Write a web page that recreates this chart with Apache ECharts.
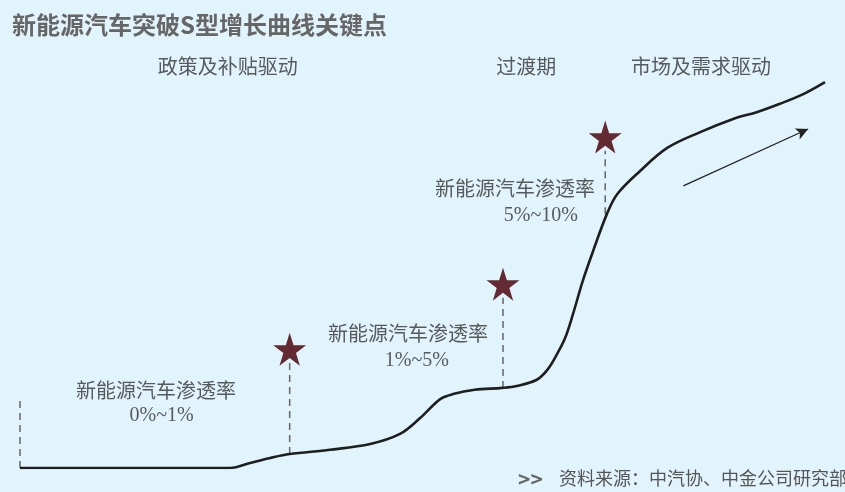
<!DOCTYPE html>
<html><head><meta charset="utf-8">
<script src="https://cdn.jsdelivr.net/npm/echarts@6/dist/echarts.min.js"></script>
<style>html,body{margin:0;padding:0;background:#e1f3fb}#c{width:845px;height:492px}</style>
</head><body><div id="c"></div>
<script>
// S-curve (conceptual): x = time 0-100, y = penetration level 0-100
const curveX = [0, 26.1, 28.6, 31.1, 33.5, 38.5, 43.5, 47.2, 49.7, 52.2, 53.8, 56.5, 59.9, 61.7, 64.2, 65.6, 66.6, 67.7, 68.7, 69.9, 71.2, 72.9, 74.2, 77.0, 80.4, 84.5, 88.6, 91.6, 94.4, 97.3, 100];
const curveY = [0, 0, 1.3, 2.6, 3.6, 4.7, 6.2, 8.8, 12.9, 17.8, 19.1, 20.2, 20.7, 21.2, 22.8, 25.6, 29.0, 33.5, 39.8, 48.3, 56.1, 65.6, 70.8, 76.7, 82.7, 86.8, 90.2, 92.0, 94.1, 96.6, 99.7];
// key points (stars) and dashed guide lines
const starX = [33.5, 60.0, 72.7];
const starY = [30.7, 47.5, 85.5];
const guideBottom = [3.6, 20.7, 65.6];
const guideTop = [27.1, 44.0, 82.0];
const startGuide = [[0, 0], [0, 17.8]];
// annotation labels
const labelTitle = '新能源汽车渗透率';
const labelRanges = ['0%~1%', '1%~5%', '5%~10%'];
const labelTitlePos = [[16.9, 19.4], [48.2, 34.1], [61.5, 71.6]];
const labelRangePos = [[17.6, 13.4], [49.3, 27.6], [64.7, 65.1]];
const phases = ['政策及补贴驱动', '过渡期', '市场及需求驱动'];
const phaseX = [25.8, 62.9, 84.6];
const phaseY = 103.1;
const arrow = [[82.4, 72.9], [97.9, 87.6]];
const chartTitle = '新能源汽车突破S型增长曲线关键点';
const source = '资料来源：中汽协、中金公司研究部';

const serif = '"Liberation Serif","DejaVu Serif","Noto Sans CJK SC"';
const starPath = 'path://M50,0 L61.2,34.5 L97.6,34.5 L68.2,55.9 L79.4,90.5 L50,69.1 L20.6,90.5 L31.8,55.9 L2.4,34.5 L38.8,34.5 Z';

const chart = echarts.init(document.getElementById('c'));
const series = [];
series.push({
  type: 'line', data: curveX.map((x, i) => [x, curveY[i]]), smooth: 0.35,
  symbol: 'none', lineStyle: {color: '#1e1e1e', width: 2.6}, z: 3,
  markLine: {
    silent: true, symbol: ['none', 'arrow'], symbolSize: [9, 12],
    lineStyle: {color: '#222', width: 1.2, type: 'solid'}, label: {show: false},
    data: [[{coord: arrow[0]}, {coord: arrow[1]}]]
  }
});
const guides = starX.map((x, i) => [[x, guideBottom[i]], [x, guideTop[i]]]).concat([startGuide]);
guides.forEach(g => series.push({
  type: 'line', data: g, symbol: 'none', lineStyle: {color: '#666', width: 1.5, type: [7, 5]}, z: 2
}));
series.push({
  type: 'scatter', data: starX.map((x, i) => [x, starY[i]]), symbol: starPath, symbolSize: 33,
  itemStyle: {color: '#632a34', opacity: 1}, z: 4
});
const textPts = [];
labelTitlePos.forEach(p => textPts.push({value: p, t: labelTitle}));
labelRangePos.forEach((p, i) => textPts.push({value: p, t: labelRanges[i]}));
phases.forEach((t, i) => textPts.push({value: [phaseX[i], phaseY], t: t}));
series.push({
  type: 'scatter', clip: false, symbolSize: 0, data: textPts, z: 5,
  label: {show: true, position: 'inside', formatter: p => p.data.t, fontSize: 20,
    fontFamily: serif, color: '#333'}
});

chart.setOption({
  backgroundColor: '#e1f3fb',
  animation: false,
  title: [
    {text: chartTitle, left: 7, top: 8, textStyle: {fontSize: 24, fontWeight: 'bold', color: '#666', fontFamily: '"Noto Sans CJK SC"'}},
    {text: '>>', left: 513, top: 464, textStyle: {fontSize: 21, fontWeight: 'bold', color: '#666', fontFamily: '"Noto Sans CJK SC"'}},
    {text: source, left: 554, top: 466, textStyle: {fontSize: 18, fontWeight: 'normal', color: '#555', fontFamily: serif}}
  ],
  grid: {left: 20, right: 20, top: 81, bottom: 24},
  xAxis: {type: 'value', min: 0, max: 100, show: false},
  yAxis: {type: 'value', min: 0, max: 100, show: false},
  series: series
});
</script></body></html>
